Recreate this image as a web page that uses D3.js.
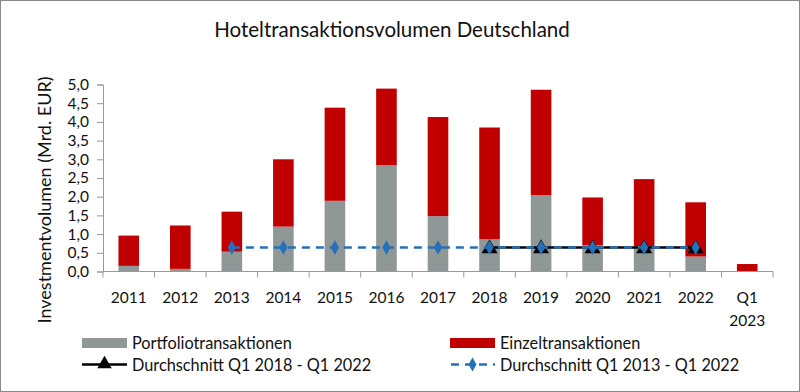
<!DOCTYPE html>
<html><head><meta charset="utf-8">
<script src="https://cdn.jsdelivr.net/npm/d3@7"></script>
<style>
body{margin:0;background:#fff;}
svg{display:block;font-family:Lato, "Liberation Sans", sans-serif;}
</style></head><body>
<svg id="c" width="800" height="392"></svg>
<script>
const categories = ["2011","2012","2013","2014","2015","2016","2017","2018","2019","2020","2021","2022","Q1 2023"];
const portfolio = [0.15,0.07,0.53,1.2,1.89,2.84,1.48,0.86,2.04,0.7,0.68,0.4,0];
const einzel    = [0.81,1.16,1.07,1.8,2.49,2.05,2.65,2.99,2.82,1.28,1.79,1.45,0.2];
const avg1822 = [null,null,null,null,null,null,null,0.64,0.64,0.64,0.64,0.64,null];
const avg1322 = [null,null,0.64,0.64,0.64,0.64,0.64,0.64,0.64,0.64,0.64,0.64,null];
const yTicks = [0,0.5,1,1.5,2,2.5,3,3.5,4,4.5,5];
const title = "Hoteltransaktionsvolumen Deutschland";
const yLabel = "Investmentvolumen (Mrd. EUR)";
const legendLabels = ["Portfoliotransaktionen","Einzeltransaktionen","Durchschnitt Q1 2018 - Q1 2022","Durchschnitt Q1 2013 - Q1 2022"];

const cGray="#8f9797", cRed="#c00000", cBlue="#2471b9";
const svg=d3.select("#c");
svg.append("rect").attr("x",0.5).attr("y",0.5).attr("width",799).attr("height",391).attr("fill","#fff").attr("stroke","#8a8a8a");

const x=d3.scaleBand().domain(categories).range([103,773]).paddingInner(0.6).paddingOuter(0.3);
const y=d3.scaleLinear().domain([0,5]).range([271.5,84.5]);

svg.append("text").attr("x",392).attr("y",37).attr("text-anchor","middle").attr("font-size",20.5).attr("fill","#111").text(title);

// bars
const g=svg.append("g");
categories.forEach((c,i)=>{
  g.append("rect").attr("x",x(c)).attr("width",x.bandwidth()).attr("y",y(portfolio[i])).attr("height",y(0)-y(portfolio[i])).attr("fill",cGray);
  g.append("rect").attr("x",x(c)).attr("width",x.bandwidth()).attr("y",y(portfolio[i]+einzel[i])).attr("height",y(0)-y(einzel[i])).attr("fill",cRed);
});

// y axis
const ya=svg.append("g").attr("transform","translate(103,0)").call(d3.axisLeft(y).tickValues(yTicks).tickSize(6).tickPadding(8).tickFormat(d=>d3.format(".1f")(d).replace(".",",")));
ya.select(".domain").attr("stroke","#999");
ya.selectAll(".tick line").attr("stroke","#999");
ya.selectAll("text").attr("font-size",15.5).attr("fill","#111").attr("font-family","Lato, sans-serif");

// x axis
const xa=svg.append("g").attr("transform","translate(0,271.5)");
xa.append("line").attr("x1",103).attr("x2",773).attr("stroke","#999");
d3.range(categories.length+1).forEach(i=>{
  const xx=103+i*(670/categories.length);
  xa.append("line").attr("x1",xx).attr("x2",xx).attr("y1",0).attr("y2",6).attr("stroke","#999");
});
categories.forEach(c=>{
  const parts=c.split(" ");
  const t=xa.append("text").attr("text-anchor","middle").attr("font-size",15.5).attr("fill","#111");
  parts.forEach((p,k)=>t.append("tspan").attr("x",x(c)+x.bandwidth()/2).attr("y",31+k*23).text(p));
});

// lines
const cx=c=>x(c)+x.bandwidth()/2;
const line=d3.line().defined(d=>d.v!=null).x(d=>cx(d.c)).y(d=>y(d.v));
const d1=categories.map((c,i)=>({c,v:avg1822[i]}));
const d2=categories.map((c,i)=>({c,v:avg1322[i]}));
svg.append("path").attr("d",line(d1)).attr("fill","none").attr("stroke","#000").attr("stroke-width",2.5);
svg.selectAll(".tri").data(d1.filter(d=>d.v!=null)).enter().append("path")
  .attr("d",d3.symbol().type(d3.symbolTriangle).size(110)).attr("transform",d=>`translate(${cx(d.c)},${y(d.v)+1})`).attr("fill","#000");
svg.append("path").attr("d",line(d2)).attr("fill","none").attr("stroke",cBlue).attr("stroke-width",2.5).attr("stroke-dasharray","8,6");
svg.selectAll(".dia").data(d2.filter(d=>d.v!=null)).enter().append("path")
  .attr("d",d3.symbol().type(d3.symbolDiamond).size(60)).attr("transform",d=>`translate(${cx(d.c)},${y(d.v)})`).attr("fill",cBlue);

// y label
svg.append("text").attr("transform","translate(51,200) rotate(-90)").attr("text-anchor","middle").attr("font-size",18).attr("fill","#111").text(yLabel);

// legend
const lg=svg.append("g").attr("font-size",16.3).attr("fill","#111");
lg.append("rect").attr("x",82).attr("y",338).attr("width",45).attr("height",10).attr("fill",cGray);
lg.append("text").attr("x",132).attr("y",349).text(legendLabels[0]);
lg.append("rect").attr("x",450).attr("y",338).attr("width",45).attr("height",10).attr("fill",cRed);
lg.append("text").attr("x",500).attr("y",349).text(legendLabels[1]);
lg.append("line").attr("x1",82).attr("x2",127).attr("y1",364.5).attr("y2",364.5).attr("stroke","#000").attr("stroke-width",2.5);
lg.append("path").attr("d",d3.symbol().type(d3.symbolTriangle).size(90)).attr("transform","translate(104.5,364)").attr("fill","#000");
lg.append("text").attr("x",132).attr("y",371).text(legendLabels[2]);
lg.append("line").attr("x1",450).attr("x2",495).attr("y1",364.5).attr("y2",364.5).attr("stroke",cBlue).attr("stroke-width",2.5).attr("stroke-dasharray","8,6").attr("stroke-dashoffset",-1);
lg.append("path").attr("d",d3.symbol().type(d3.symbolDiamond).size(55)).attr("transform","translate(472.5,364.5)").attr("fill",cBlue);
lg.append("text").attr("x",500).attr("y",371).text(legendLabels[3]);
</script></body></html>
